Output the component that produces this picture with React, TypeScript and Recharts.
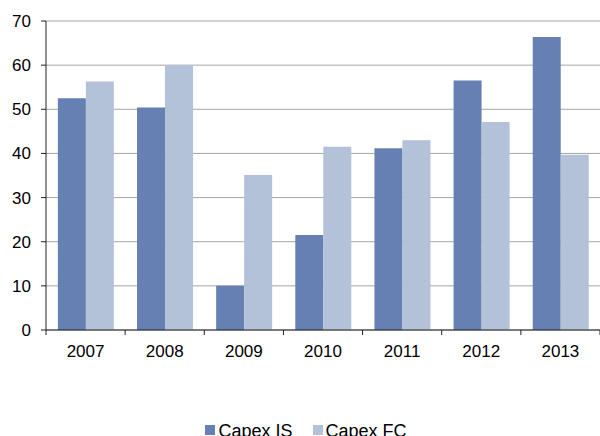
import React from "react";
import { BarChart, Bar, XAxis, YAxis, CartesianGrid, Legend } from "recharts";

// Capital expenditure by year, two series
const years = ["2007", "2008", "2009", "2010", "2011", "2012", "2013"];
const capexIS = [52.5, 50.4, 10, 21.5, 41.2, 56.5, 66.4];
const capexFC = [56.3, 60.0, 35.1, 41.5, 43.0, 47.1, 39.7];
const yTicks = [0, 10, 20, 30, 40, 50, 60, 70];

const seriesNames = { is: "Capex IS", fc: "Capex FC" };
const colors = { is: "#6680B3", fc: "#B3C1D9" };

const data = years.map((y, i) => ({ year: y, is: capexIS[i], fc: capexFC[i] }));

const FONT = '"Liberation Sans", Arial, sans-serif';
const AXIS = "#222222";
const TICK_SIZE = 5;
const TICK_MARGIN = 10;
const PLOT_WIDTH = 554;

// Year label plus a tick mark on each category boundary
function YearTick(props: any) {
  const { x, y, payload, index, visibleTicksCount } = props;
  const half = payload && payload.offset ? payload.offset : PLOT_WIDTH / years.length / 2;
  const axisY = y - TICK_SIZE - TICK_MARGIN;
  const isLast = index === visibleTicksCount - 1;
  return (
    <g>
      <line x1={x - half} x2={x - half} y1={axisY} y2={axisY + TICK_SIZE} stroke={AXIS} />
      {isLast && <line x1={x + half} x2={x + half} y1={axisY} y2={axisY + TICK_SIZE} stroke={AXIS} />}
      <text x={x} y={y} dy="0.71em" textAnchor="middle" fill="#000" fontSize={17} fontFamily={FONT}>
        {payload.value}
      </text>
    </g>
  );
}

function LegendContent() {
  const items = [
    { name: seriesNames.is, color: colors.is },
    { name: seriesNames.fc, color: colors.fc },
  ];
  return (
    <div
      style={{
        display: "flex",
        justifyContent: "center",
        paddingLeft: 12,
        height: 20,
        fontFamily: FONT,
        fontSize: 18,
        lineHeight: "20px",
        color: "#000",
      }}
    >
      {items.map((it, i) => (
        <div key={it.name} style={{ display: "flex", alignItems: "flex-start", marginLeft: i ? 20 : 0 }}>
          <span style={{ width: 10, height: 10, background: it.color, marginTop: 4, marginRight: 3 }} />
          <span>{it.name}</span>
        </div>
      ))}
    </div>
  );
}

export default function App() {
  return (
    <div style={{ position: "absolute", left: 0, top: 0, width: 600, height: 436, background: "#fff", overflow: "hidden" }}>
      <BarChart
        width={600}
        height={436}
        data={data}
        margin={{ top: 21, right: 0, bottom: 0, left: 0 }}
        barCategoryGap="15%"
        barGap={0}
      >
        <CartesianGrid vertical={false} stroke="#A6A6A6" />
        <XAxis
          dataKey="year"
          tickLine={false}
          tickSize={TICK_SIZE}
          tickMargin={TICK_MARGIN}
          axisLine={{ stroke: AXIS }}
          tick={<YearTick />}
          interval={0}
          height={86}
        />
        <YAxis
          domain={[0, 70]}
          ticks={yTicks}
          width={46}
          tickSize={TICK_SIZE}
          tickMargin={TICK_MARGIN}
          axisLine={{ stroke: AXIS }}
          tickLine={{ stroke: AXIS }}
          tick={{ fill: "#000", fontSize: 17, fontFamily: FONT }}
          interval={0}
        />
        <Legend
          content={<LegendContent />}
          wrapperStyle={{ left: 0, top: 421, width: 600 }}
        />
        <Bar dataKey="is" name={seriesNames.is} fill={colors.is} isAnimationActive={false} />
        <Bar dataKey="fc" name={seriesNames.fc} fill={colors.fc} isAnimationActive={false} />
      </BarChart>
    </div>
  );
}
